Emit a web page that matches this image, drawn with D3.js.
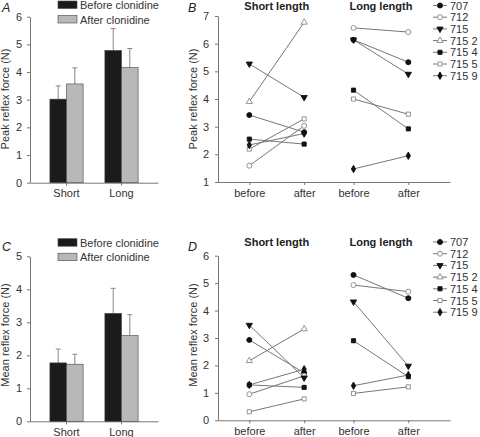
<!DOCTYPE html>
<html>
<head>
<meta charset="utf-8">
<script src="https://cdn.jsdelivr.net/npm/d3@7"></script>
<style>
html,body{margin:0;padding:0;background:#fff;}
svg{display:block;font-family:"Liberation Sans",Arial,sans-serif;}
</style>
</head>
<body>
<svg id="chart" width="480" height="437"></svg>
<script>
// ---- data ----
const barCategories = ["Short", "Long"];
const barSeries = ["Before clonidine", "After clonidine"];
const peakBefore = [3.02, 4.78];
const peakBeforeErr = [0.48, 0.79];
const peakAfter = [3.57, 4.16];
const peakAfterErr = [0.58, 0.69];
const meanBefore = [1.77, 3.27];
const meanBeforeErr = [0.42, 0.76];
const meanAfter = [1.73, 2.60];
const meanAfterErr = [0.30, 0.63];

const subjects = ["707", "712", "715", "715 2", "715 4", "715 5", "715 9"];
const conditionLabels = ["before", "after", "before", "after"];
const groupTitles = ["Short length", "Long length"];
const peakShortBefore = [3.42, 1.59, 5.27, 3.90, 2.55, 2.19, 2.34];
const peakShortAfter  = [2.80, 3.03, 4.06, 6.77, 2.37, 3.28, 2.75];
const peakLongBefore  = [6.14, 6.57, 6.14, null, 4.32, 4.00, 1.47];
const peakLongAfter   = [5.33, 6.42, 4.90, null, 2.92, 3.45, 1.95];
const meanShortBefore = [2.93, 0.95, 3.47, 2.17, 1.29, 0.31, 1.29];
const meanShortAfter  = [1.73, 1.62, 1.55, 3.33, 1.20, 0.78, 1.86];
const meanLongBefore  = [5.30, 4.93, 4.32, null, 2.90, 0.98, 1.26];
const meanLongAfter   = [4.45, 4.69, 1.98, null, 1.59, 1.22, 1.65];

const peakTicks = [0, 1, 2, 3, 4, 5, 6];
const meanTicks = [0, 1, 2, 3, 4, 5];
const peakLineTicks = [1, 2, 3, 4, 5, 6, 7];
const meanLineTicks = [0, 1, 2, 3, 4, 5, 6];

// ---- styles ----
const svg = d3.select("#chart");
const FS = 11;
const barColors = ["#1b1b1b", "#b8b8b8"];
const lineColor = "#777";
const markerDefs = [
  {type: d3.symbolCircle, filled: true, size: 20},
  {type: d3.symbolCircle, filled: false, size: 20},
  {type: d3.symbolTriangle, filled: true, size: 17, rot: 180},
  {type: d3.symbolTriangle, filled: false, size: 17, rot: 0},
  {type: d3.symbolSquare, filled: true, size: 17},
  {type: d3.symbolSquare, filled: false, size: 17},
  {type: d3.symbolDiamond, filled: true, size: 16}
];

function styleAxis(g) {
  g.selectAll("path.domain").attr("stroke", "#777").attr("stroke-width", 1);
  g.selectAll(".tick line").attr("stroke", "#777");
  g.selectAll(".tick text").attr("fill", "#333").style("font-size", FS + "px")
    .style("font-family", "'Liberation Sans',Arial,sans-serif");
}

function letter(x, y, t) {
  svg.append("text").attr("x", x).attr("y", y).text(t)
    .style("font-size", "12.5px").style("font-style", "italic").attr("fill", "#222");
}

function yLabel(x, y, t) {
  svg.append("text").attr("transform", `translate(${x},${y}) rotate(-90)`)
    .attr("text-anchor", "middle").style("font-size", FS + "px").attr("fill", "#333").text(t);
}

function barPanel(opt) {
  const y = d3.scaleLinear().domain(opt.yDomain).range(opt.yRange);
  const x = d3.scaleBand().domain(barCategories).range([30, 158]).paddingInner(0.396).paddingOuter(0.362);
  const xs = d3.scaleBand().domain([0, 1]).range([0, x.bandwidth()]);
  const gy = svg.append("g").attr("transform", "translate(30,0)")
    .call(d3.axisLeft(y).tickValues(opt.ticks).tickFormat(d3.format("d")).tickSize(3).tickPadding(5).tickSizeOuter(0));
  styleAxis(gy);
  const gx = svg.append("g").attr("transform", `translate(0,${opt.yRange[0]})`)
    .call(d3.axisBottom(x).tickSize(3).tickPadding(4).tickSizeOuter(0));
  styleAxis(gx);
  const series = [opt.before, opt.after];
  const errs = [opt.beforeErr, opt.afterErr];
  series.forEach((vals, s) => {
    const g = svg.append("g");
    g.selectAll("line.err").data(vals).enter().append("line")
      .attr("x1", (d, i) => x(barCategories[i]) + xs(s) + xs.bandwidth() / 2)
      .attr("x2", (d, i) => x(barCategories[i]) + xs(s) + xs.bandwidth() / 2)
      .attr("y1", d => y(d))
      .attr("y2", (d, i) => y(d + errs[s][i]))
      .attr("stroke", "#888").attr("stroke-width", 1);
    g.selectAll("line.cap").data(vals).enter().append("line")
      .attr("x1", (d, i) => x(barCategories[i]) + xs(s) + xs.bandwidth() / 2 - 2.5)
      .attr("x2", (d, i) => x(barCategories[i]) + xs(s) + xs.bandwidth() / 2 + 2.5)
      .attr("y1", (d, i) => y(d + errs[s][i]))
      .attr("y2", (d, i) => y(d + errs[s][i]))
      .attr("stroke", "#888").attr("stroke-width", 1);
    g.selectAll("rect").data(vals).enter().append("rect")
      .attr("x", (d, i) => x(barCategories[i]) + xs(s))
      .attr("width", xs.bandwidth())
      .attr("y", d => y(d))
      .attr("height", d => y(opt.yDomain[0]) - y(d))
      .attr("fill", barColors[s]).attr("stroke", "#444").attr("stroke-width", 0.6);
  });
  barSeries.forEach((name, s) => {
    const ly = opt.legendY + s * 14.5;
    svg.append("rect").attr("x", 58).attr("y", ly).attr("width", 19).attr("height", 7.5)
      .attr("fill", barColors[s]).attr("stroke", "#444").attr("stroke-width", 0.6);
    svg.append("text").attr("x", 80).attr("y", ly + 8).text(name)
      .style("font-size", FS + "px").attr("fill", "#333");
  });
  yLabel(9, opt.labelY, opt.label);
}

function linePanel(opt) {
  const y = d3.scaleLinear().domain(opt.yDomain).range(opt.yRange);
  const x = d3.scaleLinear().domain([-0.571, 3.66]).range([218, 450]);
  const pos = conditionLabels.map((c, i) => i - (i >= 2 ? 0.1 : 0));
  const gy = svg.append("g").attr("transform", "translate(218,0)")
    .call(d3.axisLeft(y).tickValues(opt.ticks).tickFormat(d3.format("d")).tickSize(3).tickPadding(6).tickSizeOuter(0));
  styleAxis(gy);
  const gx = svg.append("g").attr("transform", `translate(0,${opt.yRange[0]})`)
    .call(d3.axisBottom(x).tickValues(pos).tickFormat((d, i) => conditionLabels[i])
      .tickSize(3).tickPadding(4).tickSizeOuter(0));
  styleAxis(gx);
  groupTitles.forEach((t, gi) => {
    svg.append("text").attr("x", x((pos[gi * 2] + pos[gi * 2 + 1]) / 2)).attr("y", opt.titleY)
      .attr("text-anchor", "middle").style("font-size", FS + "px").style("font-weight", "bold")
      .attr("fill", "#222").text(t);
  });
  const groups = [[opt.shortBefore, opt.shortAfter], [opt.longBefore, opt.longAfter]];
  const gl = svg.append("g"), gm = svg.append("g");
  subjects.forEach((sub, k) => {
    groups.forEach((pair, gi) => {
      const a = pair[0][k], b = pair[1][k];
      if (a == null || b == null) return;
      const xa = x(pos[gi * 2]), xb = x(pos[gi * 2 + 1]);
      gl.append("line").attr("x1", xa).attr("x2", xb).attr("y1", y(a)).attr("y2", y(b))
        .attr("stroke", lineColor).attr("stroke-width", 1);
      [[xa, a], [xb, b]].forEach(p => drawMarker(gm, k, p[0], y(p[1])));
    });
  });
  subjects.forEach((sub, k) => {
    const ly = opt.legendY + k * 11.7;
    svg.append("line").attr("x1", 433).attr("x2", 447).attr("y1", ly).attr("y2", ly)
      .attr("stroke", lineColor).attr("stroke-width", 1);
    drawMarker(svg, k, 440, ly);
    svg.append("text").attr("x", 450).attr("y", ly + 4).text(sub)
      .style("font-size", FS + "px").attr("fill", "#333");
  });
  yLabel(197, opt.labelY, opt.label);
}

function drawMarker(g, k, cx, cy) {
  const m = markerDefs[k];
  g.append("path").attr("d", d3.symbol().type(m.type).size(m.size)())
    .attr("transform", `translate(${cx},${cy}) rotate(${m.rot || 0})`)
    .attr("fill", m.filled ? "#111" : "#fff")
    .attr("stroke", m.filled ? "#111" : "#888").attr("stroke-width", 0.9);
}

barPanel({yDomain: [0, 6], yRange: [182.7, 16.7], ticks: peakTicks,
  before: peakBefore, beforeErr: peakBeforeErr, after: peakAfter, afterErr: peakAfterErr,
  legendY: 1, label: "Peak reflex force (N)", labelY: 99});
barPanel({yDomain: [0, 5], yRange: [421.3, 256.3], ticks: meanTicks,
  before: meanBefore, beforeErr: meanBeforeErr, after: meanAfter, afterErr: meanAfterErr,
  legendY: 238.7, label: "Mean reflex force (N)", labelY: 335});
linePanel({yDomain: [1, 7], yRange: [182, 16], ticks: peakLineTicks,
  shortBefore: peakShortBefore, shortAfter: peakShortAfter, longBefore: peakLongBefore, longAfter: peakLongAfter,
  titleY: 9.5, legendY: 5.5, label: "Peak reflex force (N)", labelY: 99});
linePanel({yDomain: [0, 6], yRange: [420.3, 255.7], ticks: meanLineTicks,
  shortBefore: meanShortBefore, shortAfter: meanShortAfter, longBefore: meanLongBefore, longAfter: meanLongAfter,
  titleY: 246, legendY: 242, label: "Mean reflex force (N)", labelY: 335});

letter(2, 12, "A");
letter(188, 12, "B");
letter(2, 251, "C");
letter(188, 251, "D");
</script>
</body>
</html>
